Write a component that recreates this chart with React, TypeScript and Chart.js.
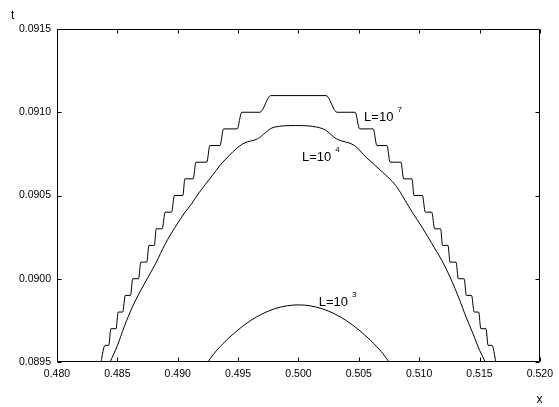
import React, { useEffect, useRef } from 'react';
import { Chart, registerables } from 'chart.js';

Chart.register(...registerables);

const X_TICKS = [0.48, 0.485, 0.49, 0.495, 0.5, 0.505, 0.51, 0.515, 0.52];
const Y_TICKS = [0.0895, 0.09, 0.0905, 0.091, 0.0915];

// L = 10^7 (staircase)
const L7_X = [
  0.48364, 0.48397, 0.48429, 0.48446, 0.48489, 0.48507, 0.48544, 0.48566, 0.48609, 0.48627,
  0.48675, 0.48695, 0.48744, 0.48761, 0.48806, 0.48822, 0.48871, 0.48896, 0.48949, 0.48973,
  0.49043, 0.49059, 0.49128, 0.49151, 0.49241, 0.49266, 0.4935, 0.4938, 0.49493, 0.4953,
  0.49681, 0.49771,
  0.50229, 0.50319, 0.5047, 0.50507, 0.5062, 0.5065, 0.50734, 0.50759, 0.50849, 0.50872,
  0.50941, 0.50957, 0.51027, 0.51051, 0.51104, 0.51129, 0.51178, 0.51194, 0.51239, 0.51256,
  0.51305, 0.51325, 0.51373, 0.51391, 0.51434, 0.51456, 0.51493, 0.51511, 0.51554, 0.51571,
  0.51603, 0.51636,
];
const L7_Y = [
  0.0895, 0.0896, 0.0896, 0.0897, 0.0897, 0.0898, 0.0898, 0.0899, 0.0899, 0.09,
  0.09, 0.0901, 0.0901, 0.0902, 0.0902, 0.0903, 0.0903, 0.0904, 0.0904, 0.0905,
  0.0905, 0.0906, 0.0906, 0.0907, 0.0907, 0.0908, 0.0908, 0.0909, 0.0909, 0.091,
  0.091, 0.0911,
  0.0911, 0.091, 0.091, 0.0909, 0.0909, 0.0908, 0.0908, 0.0907, 0.0907, 0.0906,
  0.0906, 0.0905, 0.0905, 0.0904, 0.0904, 0.0903, 0.0903, 0.0902, 0.0902, 0.0901,
  0.0901, 0.09, 0.09, 0.0899, 0.0899, 0.0898, 0.0898, 0.0897, 0.0897, 0.0896,
  0.0896, 0.0895,
];

// L = 10^4
const L4_X = [
  0.4844, 0.48501, 0.48556, 0.48624, 0.48679, 0.48747, 0.48816, 0.48897, 0.48979, 0.49061,
  0.49115, 0.4917, 0.49265, 0.49374, 0.49538, 0.4966, 0.49797, 0.49974, 0.50206, 0.50315,
  0.50465, 0.5056, 0.50697, 0.50806, 0.5086, 0.50942, 0.51024, 0.51106, 0.51188, 0.51256,
  0.51337, 0.51378, 0.51446, 0.51501, 0.51548,
];
const L4_Y = [
  0.0895, 0.0896, 0.08971, 0.08983, 0.08991, 0.09, 0.09009, 0.09021, 0.09031, 0.0904,
  0.09045, 0.09051, 0.0906, 0.0907, 0.09081, 0.09084, 0.09091, 0.09092, 0.0909, 0.09084,
  0.0908, 0.09073, 0.09064, 0.09056, 0.0905, 0.0904, 0.09031, 0.09021, 0.09011, 0.09001,
  0.08987, 0.08979, 0.08967, 0.08957, 0.0895,
];

// L = 10^3
const L3_X = [
  0.4924, 0.493, 0.494, 0.495, 0.496, 0.497, 0.498, 0.499, 0.5,
  0.501, 0.502, 0.503, 0.504, 0.505, 0.506, 0.507, 0.5076,
];
const L3_Y = [
  0.08949, 0.08955, 0.089628, 0.089693, 0.089747, 0.089789, 0.089819, 0.089837, 0.089843,
  0.089837, 0.089819, 0.089789, 0.089747, 0.089693, 0.089628, 0.08955, 0.08949,
];

const LABEL_BASE = 'L=10';
const LABEL_EXP = ['7', '4', '3'];
const LABEL_X = [0.50544, 0.50029, 0.50168];
const LABEL_Y = [0.090967, 0.090726, 0.089855];

const X_TITLE = 'x';
const Y_TITLE = 't';

const FONT = '"Liberation Sans", Arial, Helvetica, sans-serif';

const framePlugin = {
  id: 'frameTicks',
  afterDraw(chart: any) {
    const { ctx, chartArea: a, scales } = chart;
    const xs = scales.x;
    const ys = scales.y;
    const L = Math.round(a.left) + 0.5;
    const R = Math.round(a.right) - 0.5;
    const T = Math.round(a.top) + 0.5;
    const B = Math.round(a.bottom) - 0.5;
    const tl = 4;
    ctx.save();
    ctx.strokeStyle = '#000';
    ctx.lineWidth = 1;
    ctx.beginPath();
    ctx.rect(L, T, R - L, B - T);
    for (const v of X_TICKS) {
      const px = Math.round(xs.getPixelForValue(v)) + 0.5;
      ctx.moveTo(px, B);
      ctx.lineTo(px, B - tl);
      ctx.moveTo(px, T);
      ctx.lineTo(px, T + tl);
    }
    for (const v of Y_TICKS) {
      const py = Math.round(ys.getPixelForValue(v)) + 0.5;
      ctx.moveTo(L, py);
      ctx.lineTo(L + tl, py);
      ctx.moveTo(R, py);
      ctx.lineTo(R - tl, py);
    }
    ctx.stroke();

    ctx.fillStyle = '#000';
    ctx.textBaseline = 'middle';
    ctx.textAlign = 'left';
    for (let i = 0; i < LABEL_EXP.length; i++) {
      const px = xs.getPixelForValue(LABEL_X[i]);
      const py = ys.getPixelForValue(LABEL_Y[i]);
      ctx.font = `13px ${FONT}`;
      ctx.fillText(LABEL_BASE, px, py);
      const w = ctx.measureText(LABEL_BASE).width;
      ctx.font = `8px ${FONT}`;
      ctx.fillText(LABEL_EXP[i], px + w + 4, py - 8);
    }

    ctx.font = `12px ${FONT}`;
    ctx.textAlign = 'left';
    ctx.fillText(Y_TITLE, 11, 16);
    ctx.textAlign = 'center';
    ctx.fillText(X_TITLE, 539.5, 400);
    ctx.restore();
  },
};

export default function App() {
  const ref = useRef<HTMLCanvasElement | null>(null);

  useEffect(() => {
    if (!ref.current) return;
    const mk = (xs: number[], ys: number[]) => xs.map((x, i) => ({ x, y: ys[i] }));
    const common = {
      borderColor: '#000',
      borderWidth: 1,
      pointRadius: 0,
      fill: false,
      cubicInterpolationMode: 'monotone' as const,
    };
    const chart = new Chart(ref.current, {
      type: 'line',
      data: {
        datasets: [
          { label: 'L=10^7', data: mk(L7_X, L7_Y), ...common },
          { label: 'L=10^4', data: mk(L4_X, L4_Y), ...common },
          { label: 'L=10^3', data: mk(L3_X, L3_Y), ...common },
        ],
      },
      options: {
        responsive: false,
        animation: false,
        devicePixelRatio: 1,
        layout: { padding: { top: 29, right: 13, left: 0, bottom: 0 } },
        plugins: { legend: { display: false }, tooltip: { enabled: false } },
        scales: {
          x: {
            type: 'linear',
            min: 0.48,
            max: 0.52,
            grid: { display: false, drawTicks: false },
            border: { display: false },
            ticks: {
              color: '#000',
              font: { family: FONT, size: 10.5 },
              padding: 6,
              maxRotation: 0,
              autoSkip: false,
              callback: (v: any) => Number(v).toFixed(3),
            },
            afterBuildTicks: (s: any) => {
              s.ticks = X_TICKS.map((value) => ({ value }));
            },
            afterFit: (s: any) => {
              s.height = 45;
            },
          },
          y: {
            type: 'linear',
            min: 0.0895,
            max: 0.0915,
            grid: { display: false, drawTicks: false },
            border: { display: false },
            ticks: {
              color: '#000',
              font: { family: FONT, size: 10.5 },
              padding: 6,
              autoSkip: false,
              callback: (v: any) => Number(v).toFixed(4),
            },
            afterBuildTicks: (s: any) => {
              s.ticks = Y_TICKS.map((value) => ({ value }));
            },
            afterFit: (s: any) => {
              s.width = 57;
            },
          },
        },
      },
      plugins: [framePlugin],
    });
    return () => chart.destroy();
  }, []);

  return (
    <div style={{ position: 'absolute', left: 0, top: 0, width: 559, height: 407, background: '#fff' }}>
      <canvas ref={ref} width={559} height={407} />
    </div>
  );
}
